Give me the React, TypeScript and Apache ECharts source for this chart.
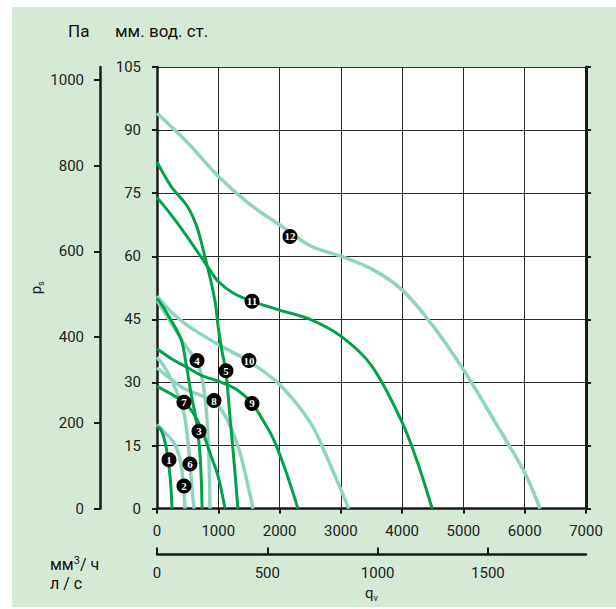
import React, { useEffect, useRef, useState } from "react";
import * as echarts from "echarts";

// flow, m3/h ; pressure, mm water column
const curve1 = [[0, 19.5], [50, 19], [100, 17.5], [150, 14.5], [200, 9.5], [230, 4.5], [245, 0]];
const curve2 = [[0, 20], [100, 18.5], [200, 17], [300, 15], [380, 11.5], [430, 6], [457, 0]];
const curve3 = [[0, 50], [100, 48], [200, 45.5], [300, 43], [400, 40], [480, 34], [560, 27], [640, 21], [690, 15], [720, 8], [735, 0]];
const curve4 = [[0, 49.5], [150, 46], [300, 42.5], [450, 39], [600, 36], [700, 33], [780, 27], [830, 18], [855, 8], [865, 0]];
const curve5 = [[0, 82.4], [130, 79], [260, 76], [490, 72], [650, 67], [780, 60], [865, 55], [950, 49], [1000, 43], [1060, 37.5], [1125, 32.5], [1190, 22], [1270, 9], [1320, 0]];
const curve6 = [[0, 36], [150, 33], [300, 28.5], [420, 24], [490, 18], [530, 12], [570, 5], [604, 0]];
const curve7 = [[0, 29], [200, 27.5], [460, 25], [620, 22], [750, 18], [870, 13], [1000, 7.5], [1110, 0]];
const curve8 = [[0, 33.5], [250, 30.5], [450, 28.5], [700, 27], [930, 25.5], [1050, 23.5], [1200, 19.5], [1350, 13.5], [1460, 7], [1566, 0]];
const curve9 = [[0, 38], [250, 35.5], [500, 33.5], [750, 31.5], [1000, 30.3], [1300, 28.3], [1550, 25], [1750, 20.5], [1900, 16.5], [2100, 9], [2300, 0]];
const curve10 = [[0, 50.5], [250, 46.5], [500, 43.5], [1000, 39], [1500, 35], [2000, 29.5], [2500, 20.5], [2750, 13], [3000, 4.5], [3130, 0]];
const curve11 = [[0, 74], [250, 69.5], [500, 64.5], [850, 57], [1000, 54], [1250, 51.2], [1550, 49.3], [2000, 47.2], [2500, 45], [3000, 41], [3500, 34], [4000, 20.5], [4250, 11], [4490, 0]];
const curve12 = [[0, 94], [500, 87], [1000, 79], [1500, 72.5], [2000, 67.5], [2500, 62.5], [3000, 60], [3500, 57], [4000, 52], [4500, 43.5], [5000, 33], [5500, 21], [6000, 8.5], [6250, 0]];

const curves = [curve1, curve2, curve3, curve4, curve5, curve6, curve7, curve8, curve9, curve10, curve11, curve12];

const markerNames = ["1", "2", "3", "4", "5", "6", "7", "8", "9", "10", "11", "12"];
const markerX = [196, 440, 685, 653, 1125, 538, 440, 930, 1550, 1500, 1550, 2170];
const markerY = [11.6, 5.4, 18.4, 35.2, 32.8, 10.6, 25.3, 25.7, 25, 35.2, 49.3, 64.7];

const mmMax = 105;
const mmStep = 15;
const qMax = 7000;
const qStep = 1000;
const paMax = 1030; // 105 mm w.c. in Pa
const paStep = 200;
const lsMax = 7000 / 3.6;
const lsStep = 500;

const DARK = "#00a24b";
const LIGHT = "#8fd4bd";
const FONT = "Roboto, 'DejaVu Sans Condensed', sans-serif";
const INK = "#1a1a1a";
const plain = (v: number) => String(Math.round(v));

export default function App() {
  const ref = useRef<HTMLDivElement>(null);
  const [err, setErr] = useState("");
  useEffect(() => {
    if (!ref.current) return;
    const chart = echarts.init(ref.current, null, { renderer: "svg" });
    const lineSeries = curves.map((c, i) => {
      const dark = i % 2 === 0;
      return {
        type: "line",
        data: c,
        smooth: 0.35,
        symbol: "none",
        showSymbol: false,
        lineStyle: { color: dark ? DARK : LIGHT, width: dark ? 3 : 3.5 },
        z: dark ? 4 : 3,
      };
    });
    const labelStyle = { fontSize: 15, color: "#222", fontFamily: FONT, formatter: plain };
    const option = {
      animation: false,
      grid: { left: 145, top: 60, width: 429, height: 445, show: true, backgroundColor: "#ffffff", borderWidth: 0 },
      xAxis: [
        {
          type: "value",
          min: 0,
          max: qMax,
          interval: qStep,
          axisLine: { show: true, onZero: false, lineStyle: { color: INK, width: 2.5 } },
          axisTick: { show: true, length: 5, lineStyle: { color: INK, width: 2 } },
          axisLabel: { ...labelStyle, margin: 15 },
          splitLine: { show: true, lineStyle: { color: "#2a2a2a", width: 1 } },
        },
        {
          type: "value",
          min: 0,
          max: lsMax,
          interval: lsStep,
          position: "bottom",
          offset: 46,
          axisLine: { show: true, onZero: false, lineStyle: { color: INK, width: 2.5 } },
          axisTick: { show: true, inside: true, length: 7, lineStyle: { color: INK, width: 2 } },
          axisLabel: { ...labelStyle, margin: 11, showMaxLabel: false },
          splitLine: { show: false },
          name: "q{s|v}",
          nameLocation: "middle",
          nameGap: 29,
          nameTextStyle: {
            fontSize: 15,
            color: "#222",
            fontFamily: FONT,
            rich: { s: { fontSize: 9, color: "#222", fontFamily: FONT, padding: [9, 0, 0, 0] } },
          },
        },
      ],
      yAxis: [
        {
          type: "value",
          min: 0,
          max: mmMax,
          interval: mmStep,
          position: "left",
          axisLine: { show: true, onZero: false, lineStyle: { color: INK, width: 2.5 } },
          axisTick: { show: true, length: 5, lineStyle: { color: INK, width: 2 } },
          axisLabel: { ...labelStyle, margin: 16 },
          splitLine: { show: true, lineStyle: { color: "#2a2a2a", width: 1 } },
        },
        {
          type: "value",
          min: 0,
          max: mmMax,
          interval: mmStep,
          position: "right",
          axisLine: { show: true, onZero: false, lineStyle: { color: INK, width: 3 } },
          axisTick: { show: true, length: 5, lineStyle: { color: INK, width: 2 } },
          axisLabel: { show: false },
          splitLine: { show: false },
        },
        {
          type: "value",
          min: 0,
          max: paMax,
          interval: paStep,
          position: "left",
          offset: 57,
          axisLine: { show: true, onZero: false, lineStyle: { color: INK, width: 2.5 } },
          axisTick: { show: true, length: 6, lineStyle: { color: INK, width: 2 } },
          axisLabel: { ...labelStyle, margin: 16, showMaxLabel: false },
          splitLine: { show: false },
          name: "p{s|s}",
          nameLocation: "middle",
          nameRotate: 90,
          nameGap: 55,
          nameMoveOverlap: false,
          nameTextStyle: {
            fontSize: 15,
            color: "#222",
            fontFamily: FONT,
            rich: { s: { fontSize: 9, color: "#222", fontFamily: FONT, padding: [9, 0, 0, 0] } },
          },
        },
      ],
      graphic: [
        { type: "text", left: 56, top: 15, style: { text: "Па", fontSize: 17, fill: "#111", fontFamily: FONT } },
        { type: "text", left: 103, top: 15, style: { text: "мм. вод. ст.", fontSize: 17, fill: "#111", fontFamily: FONT } },
        {
          type: "text",
          left: 38,
          top: 548,
          style: {
            text: "мм{sup|3}/ ч",
            fontSize: 16,
            fill: "#111",
            fontFamily: FONT,
            rich: { sup: { fontSize: 11, fill: "#111", fontFamily: FONT, verticalAlign: "top", padding: [0, 0, 8, 0] } },
          },
        },
        { type: "text", left: 38, top: 568, style: { text: "л / с", fontSize: 16, fill: "#111", fontFamily: FONT } },
      ],
      series: [
        ...lineSeries,
        {
          type: "scatter",
          symbol: "circle",
          symbolSize: 15,
          itemStyle: { color: "#000", opacity: 1 },
          z: 10,
          data: markerNames.map((n, i) => ({ name: n, value: [markerX[i], markerY[i]] })),
          label: {
            show: true,
            position: "inside",
            formatter: "{b}",
            color: "#fff",
            fontWeight: "bold",
            fontSize: 11,
            fontFamily: "'Liberation Serif', 'DejaVu Serif', serif",
          },
        },
      ],
    };
    try {
      chart.setOption(option as any);
    } catch (e: any) {
      setErr(String(e && e.stack ? e.stack : e));
    }
    return () => chart.dispose();
  }, []);
  return (
    <>
      <div
        ref={ref}
        style={{ position: "absolute", left: 12, top: 7, width: 604, height: 600, background: "#d5e9d6" }}
      />
      {err ? (
        <pre style={{ position: "absolute", left: 0, top: 0, fontSize: 10, whiteSpace: "pre-wrap", width: 600, background: "#fff" }}>{err}</pre>
      ) : null}
    </>
  );
}
